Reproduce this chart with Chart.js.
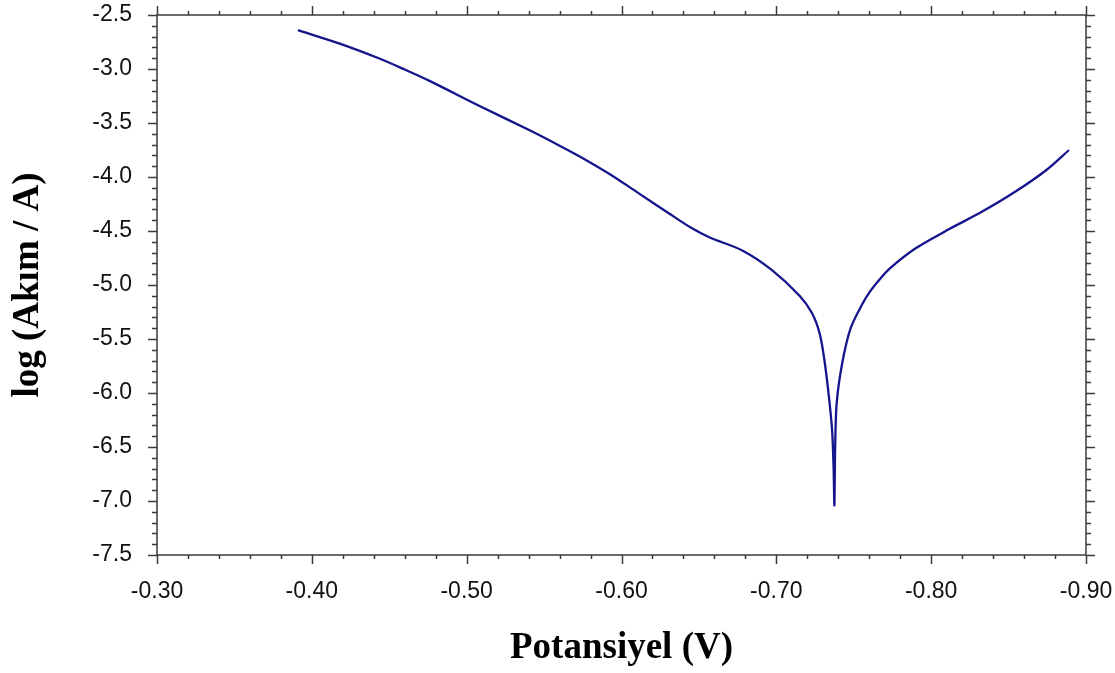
<!DOCTYPE html>
<html>
<head>
<meta charset="utf-8">
<script src="https://cdn.jsdelivr.net/npm/chart.js@4"></script>
<style>
  html, body { margin: 0; padding: 0; background: #fff; }
  #wrap { width: 1115px; height: 673px; }
</style>
</head>
<body>
<div id="wrap"><canvas id="tafel"></canvas></div>
<script>
// potansiyel (V) ve log(akım) değerleri
const potansiyel = [
  -0.391, -0.418, -0.444, -0.460, -0.476, -0.508, -0.541, -0.560, -0.573, -0.592, -0.610,
  -0.631, -0.645, -0.657, -0.678, -0.697, -0.715, -0.723, -0.728, -0.731,
  -0.734, -0.736, -0.737, -0.7375, -0.738, -0.739, -0.7426, -0.748, -0.755, -0.760,
  -0.766, -0.773, -0.790, -0.812, -0.833, -0.855, -0.874, -0.889
];
const logAkim = [
  -2.64, -2.765, -2.905, -3.005, -3.11, -3.34, -3.57, -3.71, -3.81, -3.97, -4.14,
  -4.34, -4.47, -4.56, -4.68, -4.86, -5.10, -5.26, -5.45, -5.69,
  -6.04, -6.34, -6.70, -7.04, -6.50, -6.09, -5.72, -5.40, -5.19, -5.07,
  -4.96, -4.85, -4.66, -4.48, -4.32, -4.13, -3.94, -3.75
];

// eksen sınırları
const xMin = -0.90, xMax = -0.30, xStep = 0.10, xMinor = 0.02;
const yMin = -7.5, yMax = -2.5, yStep = 0.5, yMinor = 0.1;

const noktalar = potansiyel.map((v, i) => ({ x: v, y: logAkim[i] }));

const etiketFont = 'Liberation Sans, Arial, sans-serif';
const baslikFont = 'Liberation Serif, Times New Roman, serif';

// çerçeve + dört kenarda dışa bakan büyük/küçük çentikler
const cerceve = {
  id: 'cerceve',
  afterDraw(chart) {
    const { ctx, chartArea: a, scales } = chart;
    const xs = scales.x, ys = scales.y;
    ctx.save();
    ctx.strokeStyle = '#3a3a3a';
    ctx.lineWidth = 1.5;
    ctx.strokeRect(a.left, a.top, a.right - a.left, a.bottom - a.top);
    ctx.beginPath();
    const nx = Math.round((xMax - xMin) / xMinor);
    for (let i = 0; i <= nx; i++) {
      const v = xMin + i * xMinor;
      const px = Math.round(xs.getPixelForValue(v)) + 0.5;
      const len = (i % 5 === 0) ? 9 : 4;
      ctx.moveTo(px, a.bottom); ctx.lineTo(px, a.bottom + len);
      ctx.moveTo(px, a.top); ctx.lineTo(px, a.top - len);
    }
    const ny = Math.round((yMax - yMin) / yMinor);
    for (let i = 0; i <= ny; i++) {
      const v = yMin + i * yMinor;
      const py = Math.round(ys.getPixelForValue(v)) + 0.5;
      const len = (i % 5 === 0) ? 9 : 5;
      ctx.moveTo(a.left, py); ctx.lineTo(a.left - len, py);
      ctx.moveTo(a.right, py); ctx.lineTo(a.right + len, py);
    }
    ctx.stroke();
    ctx.restore();
  }
};

new Chart(document.getElementById('tafel'), {
  type: 'scatter',
  data: {
    datasets: [{
      data: noktalar,
      showLine: true,
      borderColor: '#14148c',
      borderWidth: 2.3,
      pointRadius: 0,
      tension: 0.3,
      fill: false
    }]
  },
  options: {
    responsive: true,
    maintainAspectRatio: false,
    animation: false,
    layout: { padding: { top: 15, right: 29, left: 0, bottom: 0 } },
    plugins: { legend: { display: false }, tooltip: { enabled: false } },
    scales: {
      x: {
        type: 'linear',
        reverse: true,
        min: xMin, max: xMax,
        afterFit: s => { s.height = 118; s.paddingLeft = 0; s.paddingRight = 0; },
        grid: { display: false },
        border: { display: false },
        ticks: {
          stepSize: xStep,
          padding: 15,
          color: '#111',
          font: { family: etiketFont, size: 23 },
          callback: v => v.toFixed(2)
        },
        title: {
          display: true,
          text: 'Potansiyel (V)',
          color: '#000',
          font: { family: baslikFont, size: 37, weight: 'bold' },
          padding: { top: 0, bottom: 2 }
        }
      },
      y: {
        min: yMin, max: yMax,
        afterFit: s => { s.width = 157; s.paddingTop = 0; s.paddingBottom = 0; },
        grid: { display: false },
        border: { display: false },
        ticks: {
          stepSize: yStep,
          padding: 17,
          color: '#111',
          font: { family: etiketFont, size: 23 },
          callback: v => v.toFixed(1)
        },
        title: {
          display: true,
          text: 'log (Akım / A)',
          color: '#000',
          font: { family: baslikFont, size: 37, weight: 'bold' },
          padding: { top: 6, bottom: 0 }
        }
      }
    }
  },
  plugins: [cerceve]
});
</script>
</body>
</html>
